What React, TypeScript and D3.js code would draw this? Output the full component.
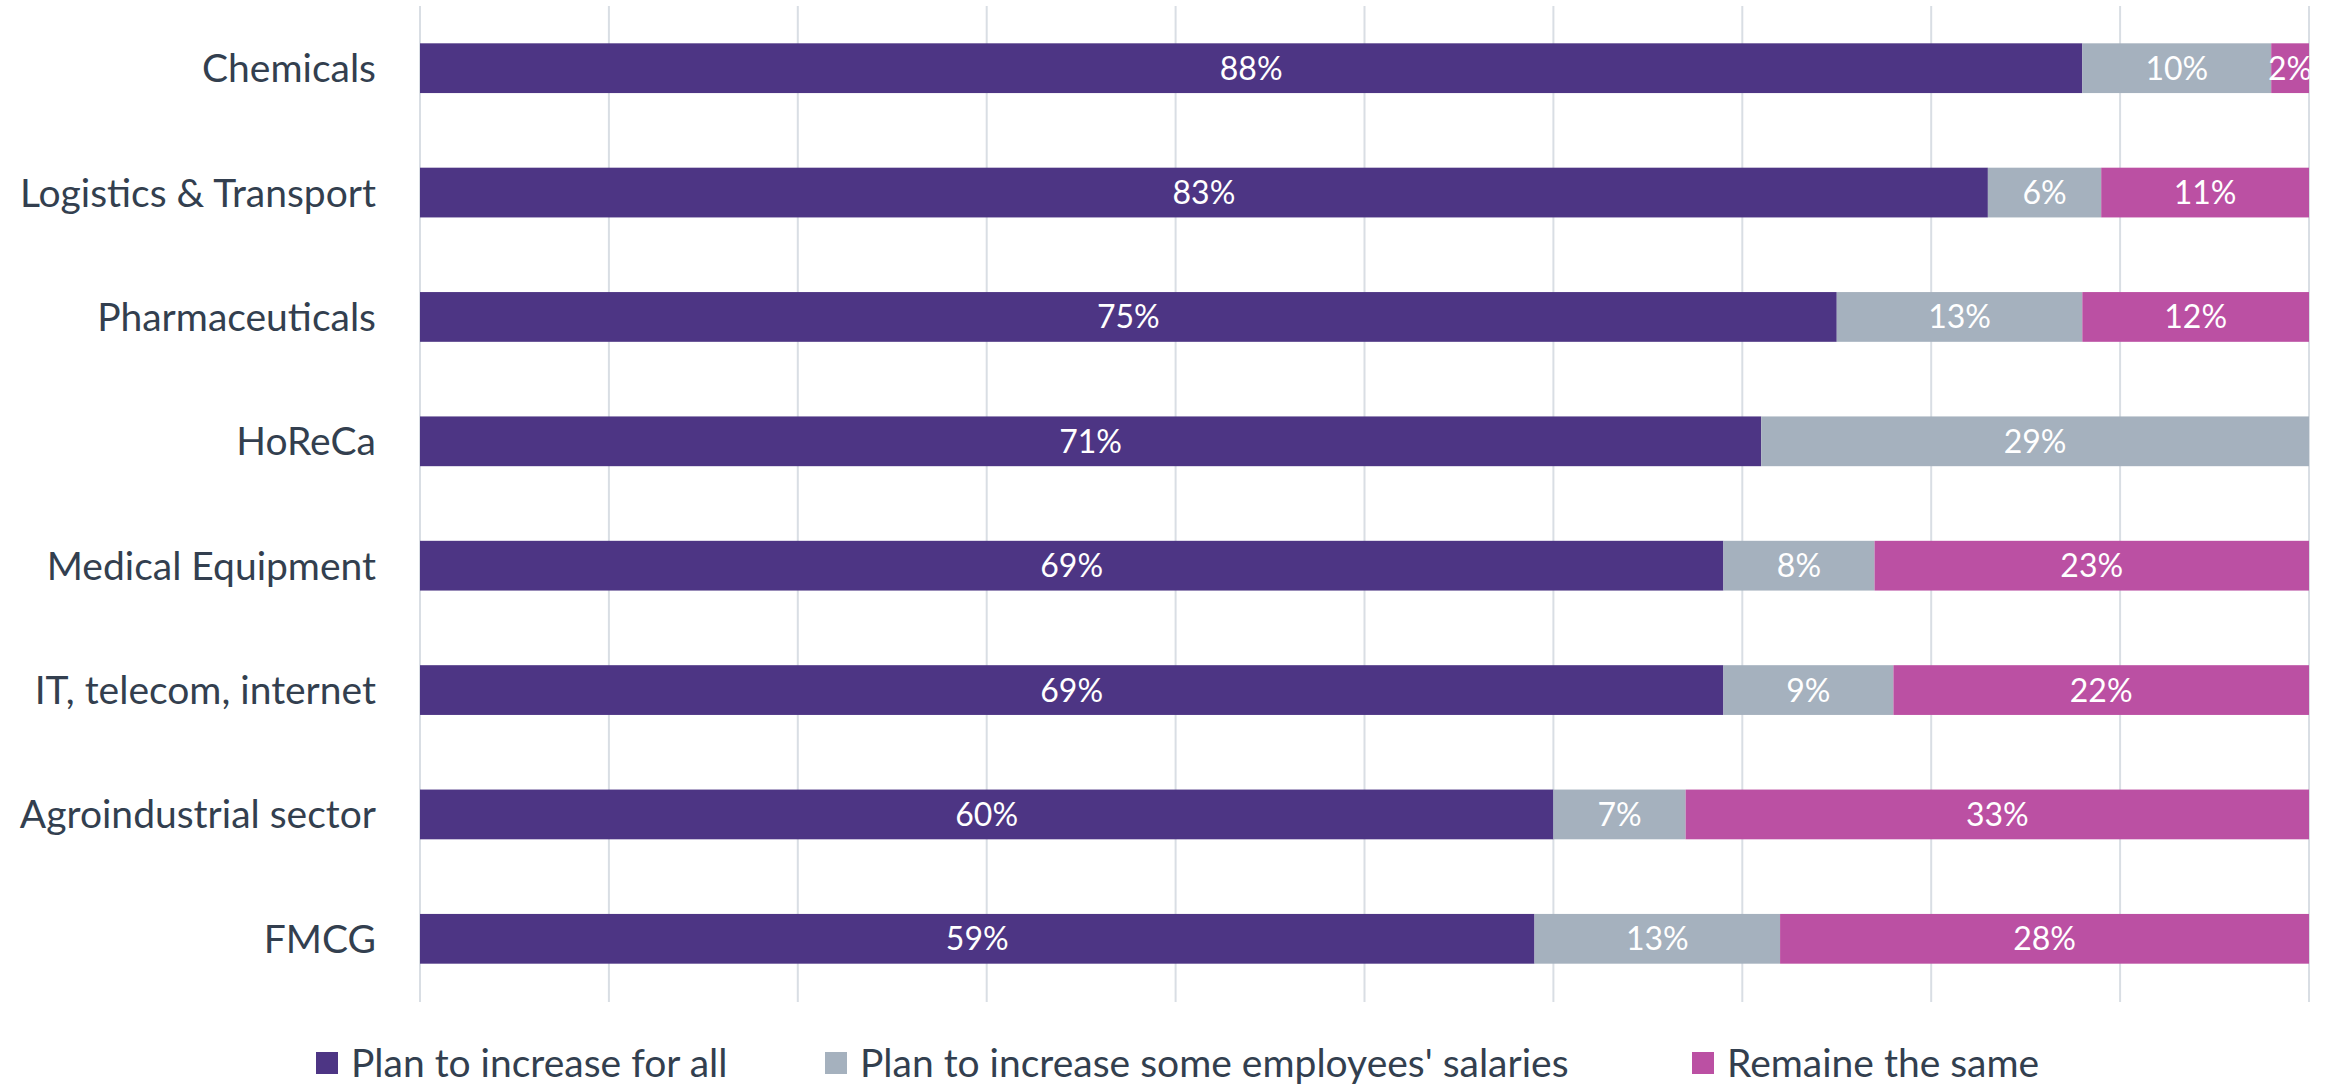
import React from "react";
import * as d3 from "d3";

const categories = [
  "Chemicals",
  "Logistics & Transport",
  "Pharmaceuticals",
  "HoReCa",
  "Medical Equipment",
  "IT, telecom, internet",
  "Agroindustrial sector",
  "FMCG",
];
const seriesNames = [
  "Plan to increase for all",
  "Plan to increase some employees' salaries",
  "Remaine the same",
];
const increaseAll = [88, 83, 75, 71, 69, 69, 60, 59];
const increaseSome = [10, 6, 13, 29, 8, 9, 7, 13];
const remainSame = [2, 11, 12, 0, 23, 22, 33, 28];
const xTicks = [0, 10, 20, 30, 40, 50, 60, 70, 80, 90, 100];

const colors = ["#4D3584", "#A5B1BE", "#BB50A3"];
const W = 2325;
const H = 1084;
const FONT = "Lato, 'Open Sans', sans-serif";

export default function App() {
  const x0 = 420;
  const x1 = 2309;
  const x = d3.scaleLinear().domain([0, 100]).range([x0, x1]);
  const y = d3
    .scaleBand<string>()
    .domain(categories)
    .range([6, 1001])
    .paddingInner(0.6)
    .paddingOuter(0.3);

  const table = categories.map((c, i) => ({
    cat: c,
    v0: increaseAll[i],
    v1: increaseSome[i],
    v2: remainSame[i],
  }));
  const stack = d3.stack<any>().keys(["v0", "v1", "v2"])(table);

  const legendItems = [
    { sx: 316, tx: 351 },
    { sx: 825, tx: 860 },
    { sx: 1692, tx: 1727 },
  ];

  return (
    <svg
      width={W}
      height={H}
      style={{ position: "absolute", left: 0, top: 0, background: "#fff" }}
      fontFamily={FONT}
    >
      <defs>
        <clipPath id="plotClip">
          <rect x={x0} y={0} width={x1 - x0 + 0.5} height={H} />
        </clipPath>
      </defs>
      {xTicks.map((t) => (
        <line
          key={t}
          x1={x(t)}
          x2={x(t)}
          y1={6}
          y2={1002}
          stroke="#D9DEE4"
          strokeWidth={2}
        />
      ))}
      {stack.map((layer, si) => (
        <g key={si}>
          {layer.map((d, i) => {
            const w = x(d[1]) - x(d[0]);
            if (w <= 0) return null;
            return (
              <rect
                key={i}
                x={x(d[0])}
                y={y(categories[i])}
                width={w}
                height={y.bandwidth()}
                fill={colors[si]}
              />
            );
          })}
        </g>
      ))}
      <g clipPath="url(#plotClip)">
        {stack.map((layer, si) => (
          <g key={si}>
            {layer.map((d, i) => {
              const v = d[1] - d[0];
              if (v <= 0) return null;
              return (
                <text
                  key={i}
                  x={(x(d[0]) + x(d[1])) / 2}
                  y={(y(categories[i]) as number) + y.bandwidth() / 2}
                  dy="0.36em"
                  textAnchor="middle"
                  fill="#fff"
                  fontSize={32}
                >
                  {v}%
                </text>
              );
            })}
          </g>
        ))}
      </g>
      {categories.map((c) => (
        <text
          key={c}
          x={376}
          y={(y(c) as number) + y.bandwidth() / 2}
          dy="0.36em"
          textAnchor="end"
          fill="#333F4F"
          fontSize={39}
        >
          {c}
        </text>
      ))}
      {seriesNames.map((s, i) => (
        <g key={s}>
          <rect
            x={legendItems[i].sx}
            y={1052}
            width={22}
            height={22}
            fill={colors[i]}
          />
          <text
            x={legendItems[i].tx}
            y={1063}
            dy="0.36em"
            fill="#333F4F"
            fontSize={39}
          >
            {s}
          </text>
        </g>
      ))}
    </svg>
  );
}
